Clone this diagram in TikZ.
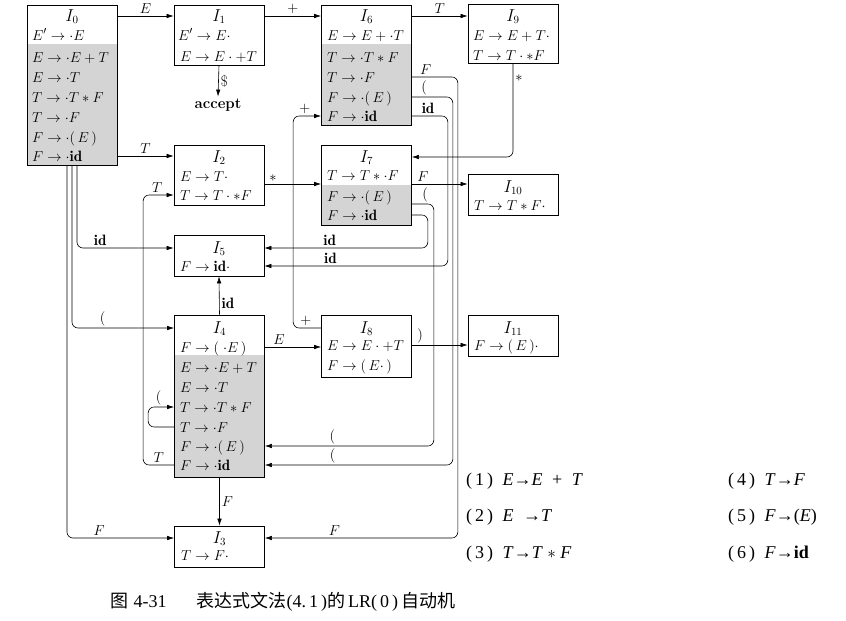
\documentclass[tikz,border=0pt]{standalone}
\usepackage{amsmath}
\usepackage{fontspec}
\newfontfamily\listfont{Liberation Serif}
\newfontfamily\cjk{Noto Sans CJK SC}
\usetikzlibrary{arrows.meta}

\begin{document}
\begin{tikzpicture}[x=1pt,y=-1pt,
  state/.style={draw, line width=0.7pt, rectangle, inner sep=0pt, minimum width=90},
  item/.style={anchor=west, inner sep=0pt, text height=12pt, text depth=2pt, font=\fontsize{15}{18}\selectfont},
  title/.style={inner sep=0pt, text height=12pt, text depth=2pt, font=\fontsize{16}{18}\selectfont},
  lab/.style={inner sep=2pt, font=\fontsize{15}{18}\selectfont},
  go/.style={line width=0.6pt, rounded corners=6pt, -{Latex[length=7pt,width=4.5pt]}},
  gram/.style={anchor=west, inner sep=0pt, font=\listfont\fontsize{18}{21}\selectfont},
  shade/.style={fill=black!17}]
\useasboundingbox (0,0) rectangle (846,621);

% closure parts
\fill[shade] (27,44) rectangle (117,165);
\fill[shade] (321.5,44) rectangle (411.5,125);
\fill[shade] (321.5,185) rectangle (411.5,225);
\fill[shade] (174.5,355) rectangle (264.5,477);

\node[state, minimum height=160] (I0) at (72,85) {};
\node[state, minimum height=60] (I1) at (219,35) {};
\node[state, minimum height=120] (I6) at (366.5,65) {};
\node[state, minimum height=59] (I9) at (513,33.5) {};
\node[state, minimum height=60] (I2) at (219,175) {};
\node[state, minimum height=80] (I7) at (366.5,185) {};
\node[state, minimum height=41] (I10) at (513,194.5) {};
\node[state, minimum height=41] (I5) at (219,255.5) {};
\node[state, minimum height=162] (I4) at (219.5,396) {};
\node[state, minimum height=62] (I8) at (366.5,346) {};
\node[state, minimum height=41] (I11) at (513,335.5) {};
\node[state, minimum height=41] (I3) at (219.5,546.5) {};
\coordinate (s7) at (366.5,184);

\node[title] (i0t) at (72,16) {$I_0$};
\node[item] (i0a) at (32,35) {$E'\to\cdot E$};
\node[item] (i0b) at (32,57) {$E\to\cdot E+T$};
\node[item] (i0c) at (32,77) {$E\to\cdot T$};
\node[item] (i0d) at (32,97) {$T\to\cdot T*F$};
\node[item] (i0e) at (32,117) {$T\to\cdot F$};
\node[item] (i0f) at (32,137) {$F\to\cdot(\,E\,)$};
\node[item] (i0g) at (32,156) {$F\to\cdot\mathbf{id}$};

\node[title] (i1t) at (219,16) {$I_1$};
\node[item] (i1a) at (178,35) {$E'\to E\cdot$};
\node[item] (i1b) at (180,56) {$E\to E\cdot +T$};

\node[title] (i6t) at (366.5,16) {$I_6$};
\node[item] (i6a) at (327,35) {$E\to E+\cdot T$};
\node[item] (i6b) at (327,57) {$T\to\cdot T*F$};
\node[item] (i6c) at (327,77) {$T\to\cdot F$};
\node[item] (i6d) at (327,97) {$F\to\cdot(\,E\,)$};
\node[item] (i6e) at (327,116) {$F\to\cdot\mathbf{id}$};

\node[title] (i9t) at (513,16) {$I_9$};
\node[item] (i9a) at (473,35) {$E\to E+T\cdot$};
\node[item] (i9b) at (473,55) {$T\to T\cdot *F$};

\node[title] (i2t) at (219,157) {$I_2$};
\node[item] (i2a) at (180,176) {$E\to T\cdot$};
\node[item] (i2b) at (180,195) {$T\to T\cdot *F$};

\node[title] (i7t) at (366.5,157) {$I_7$};
\node[item] (i7a) at (327,175) {$T\to T*\cdot F$};
\node[item] (i7b) at (327,196) {$F\to\cdot(\,E\,)$};
\node[item] (i7c) at (327,215) {$F\to\cdot\mathbf{id}$};

\node[title] (i10t) at (513,187) {$I_{10}$};
\node[item] (i10a) at (474,205) {$T\to T*F\cdot$};

\node[title] (i5t) at (219,248) {$I_5$};
\node[item] (i5a) at (180,266) {$F\to\mathbf{id}\cdot$};

\node[title] (i4t) at (219.5,328) {$I_4$};
\node[item] (i4a) at (180,347) {$F\to(\;\cdot E\,)$};
\node[item] (i4b) at (180,367) {$E\to\cdot E+T$};
\node[item] (i4c) at (180,387) {$E\to\cdot T$};
\node[item] (i4d) at (180,407) {$T\to\cdot T*F$};
\node[item] (i4e) at (180,427) {$T\to\cdot F$};
\node[item] (i4f) at (180,446) {$F\to\cdot(\,E\,)$};
\node[item] (i4g) at (180,465) {$F\to\cdot\mathbf{id}$};

\node[title] (i8t) at (366.5,328) {$I_8$};
\node[item] (i8a) at (327,345) {$E\to E\cdot +T$};
\node[item] (i8b) at (327,365) {$F\to(\,E\cdot\,)$};

\node[title] (i11t) at (513,328) {$I_{11}$};
\node[item] (i11a) at (474,345) {$F\to(\,E\,)\cdot$};

\node[title] (i3t) at (219.5,538) {$I_3$};
\node[item] (i3a) at (181,555) {$T\to F\cdot$};

\node[lab, font=\fontsize{15}{18}\selectfont\bfseries] (acc) at (218,105) {accept};

% transitions
\draw[go] (I0.east |- i0t) -- node[lab, above] (x0e) {$E$} (I1.west |- i0t);
\draw[go] (I1.east |- i1t) -- node[lab, above] (x1p) {$+$} (I6.west |- i1t);
\draw[go] (I6.east |- i6t) -- node[lab, above] (x6t) {$T$} (I9.west |- i6t);
\draw[go] (I1.south) -- node[lab, right] (x1d) {\$} (acc.north);
\draw[go] (I0.east |- i0g) -- node[lab, above] (x0t) {$T$} (I2.west |- i0g);
\draw[go] ([xshift=5pt]I0.south) |- node[lab, pos=.62, above] (x0i) {$\mathbf{id}$} (I5.west |- i5t);
\draw[go] (I0.south) |- node[lab, pos=.65, above] (x0l) {$($} (I4.west |- i4t);
\draw[go] ([xshift=-5pt]I0.south) |- node[lab, pos=.65, above] (x0f) {$F$} (I3.west |- i3t);
\draw[go] (I2.east |- s7) -- node[lab, pos=.15, above] (x2s) {$*$} (I7.west |- s7);
\draw[go] (I7.east |- s7) -- node[lab, pos=.2, above] (x7f) {$F$} (I10.west |- s7);
\draw[go] (I9.south) |- node[lab, pos=.08, right] (x9s) {$*$} (I7.east |- i7t);
\draw[go] (I4.west |- i4g) -- node[lab, above] (x4ta) {$T$} ++(-31,0)
  |- node[lab, pos=.73, above] (x4tb) {$T$} (I2.west |- i2b);
\draw[go] (I4.west |- i4e) -- ++(-26,0) |- node[lab, pos=.7, above] (x4l) {$($} (I4.west |- i4d);
\draw[go] (I4.north) -- node[lab, pos=.3, right] (x4i) {$\mathbf{id}$} (I5.south);
\draw[go] (I4.east |- i4a) -- node[lab, pos=.25, above] (x4e) {$E$} (I8.west |- i4a);
\draw[go] (I4.south) -- node[lab, right] (x4f) {$F$} (I3.north);
\draw[go] (I6.east |- i6c) -- node[lab, pos=.3, above] (x6fa) {$F$} ++(46,0)
  |- node[lab, pos=.82, above] (x6fb) {$F$} (I3.east |- i3t);
\draw[go] (I6.east |- i6d) -- node[lab, pos=.3, above] (x6la) {$($} ++(41,0)
  |- node[lab, pos=.82, above] (x6lb) {$($} (I4.east |- i4g);
\draw[go] (I6.east |- i6e) -- node[lab, pos=.45, above] (x6ia) {$\mathbf{id}$} ++(36,0)
  |- node[lab, pos=.82, above] (x6ib) {$\mathbf{id}$} (I5.east |- i5a);
\draw[go] ([yshift=-8pt]I7.east |- i7b) -- node[lab, pos=.6, above] (x7la) {$($} ++(22,0)
  |- node[lab, pos=.8, above] (x7lb) {$($} (I4.east |- i4f);
\draw[go] (I7.east |- i7c) -- ++(16,0) |- node[lab, pos=.8, above] (x7i) {$\mathbf{id}$} (I5.east |- i5t);
\draw[go] (I8.west |- i8t) -- node[lab, pos=.55, above] (x8pa) {$+$} ++(-28,0)
  |- node[lab, pos=.71, above] (x8pb) {$+$} (I6.west |- i6e);
\draw[go] (I8.east |- i8a) -- node[lab, pos=.15, above] (x8r) {$)$} (I11.west |- i8a);

% grammar
\node[gram] (g1) at (466,481) {(\,1\,)\; \textit{E}→\textit{E}\; +\; \textit{T}};
\node[gram] (g2) at (466,517) {(\,2\,)\; \textit{E}\; →\textit{T}};
\node[gram] (g3) at (466,554) {(\,3\,)\; \textit{T}→\textit{T} $\ast$ \textit{F}};
\node[gram] (g4) at (728,481) {(\,4\,)\; \textit{T}→\textit{F}};
\node[gram] (g5) at (728,517) {(\,5\,)\; \textit{F}→(\textit{E})};
\node[gram] (g6) at (728,554) {(\,6\,)\; \textit{F}→\textbf{id}};

\node[anchor=west, inner sep=0pt, font=\fontsize{18}{21}\selectfont] (cap) at (110,602)
  {{\cjk 图} {\listfont 4-31}\hspace{30pt}{\cjk 表达式文法}{\listfont (4.\,1\,)}{\cjk 的}\,{\listfont LR(\,0\,)}\,{\cjk 自动机}};
\end{tikzpicture}
\end{document}
